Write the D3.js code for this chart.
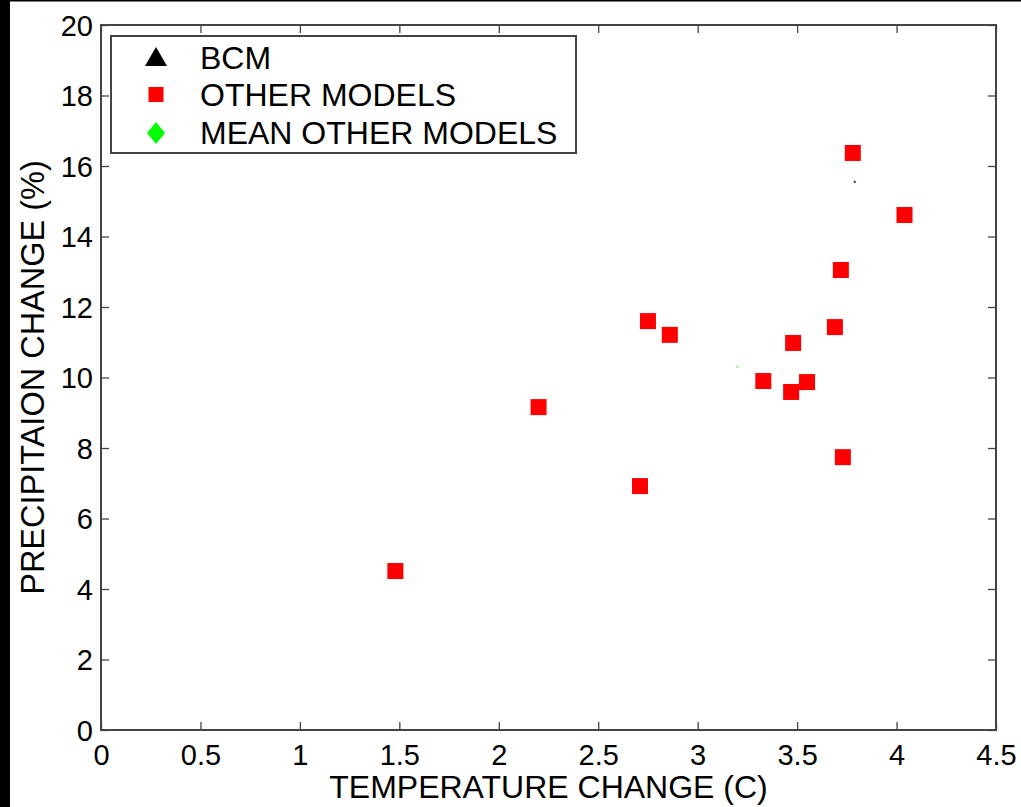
<!DOCTYPE html>
<html>
<head>
<meta charset="utf-8">
<script src="https://cdn.jsdelivr.net/npm/d3@7"></script>
<style>
  body { margin: 0; background: #fff; }
  svg { display: block; }
  text { font-family: "Liberation Sans", Arial, sans-serif; fill: #000; }
</style>
</head>
<body>
<svg id="chart" width="1021" height="807"></svg>
<script>
// values
const otherX = [1.48, 2.20, 2.71, 2.75, 2.86, 3.33, 3.48, 3.47, 3.55, 3.69, 3.72, 3.73, 3.78, 4.04];
const otherY = [4.51, 9.16, 6.92, 11.60, 11.21, 9.90, 10.98, 9.59, 9.87, 11.43, 13.05, 7.74, 16.37, 14.61];
const bcmPoint = [3.79, 15.55];
const meanPoint = [3.20, 10.30];
const xTicks = [0, 0.5, 1, 1.5, 2, 2.5, 3, 3.5, 4, 4.5];
const yTicks = [0, 2, 4, 6, 8, 10, 12, 14, 16, 18, 20];
const legendLabels = ["BCM", "OTHER MODELS", "MEAN OTHER MODELS"];

const svg = d3.select("#chart");
const axisColor = "#444";

// black frame edges from the original scan
svg.append("rect").attr("x", 0).attr("y", 0).attr("width", 10).attr("height", 807).attr("fill", "#000");
svg.append("rect").attr("x", 0).attr("y", 0).attr("width", 1021).attr("height", 1.5).attr("fill", "#000");

const plot = { left: 101, right: 996, top: 25, bottom: 730 };
const x = d3.scaleLinear().domain([0, 4.5]).range([plot.left, plot.right]);
const y = d3.scaleLinear().domain([0, 20]).range([plot.bottom, plot.top]);

// inward ticks on all sides
const tickLen = 8;
const axB = svg.append("g").attr("transform", `translate(0,${plot.bottom})`)
    .call(d3.axisBottom(x).tickValues(xTicks).tickSize(-tickLen).tickPadding(14).tickFormat(d3.format("")));
const axL = svg.append("g").attr("transform", `translate(${plot.left},0)`)
    .call(d3.axisLeft(y).tickValues(yTicks).tickSize(-tickLen).tickPadding(8).tickFormat(d3.format("")));
const axT = svg.append("g").attr("transform", `translate(0,${plot.top})`)
    .call(d3.axisTop(x).tickValues(xTicks).tickSize(-tickLen).tickFormat(""));
const axR = svg.append("g").attr("transform", `translate(${plot.right},0)`)
    .call(d3.axisRight(y).tickValues(yTicks).tickSize(-tickLen).tickFormat(""));

[axB, axL, axT, axR].forEach(g => {
    g.select(".domain").remove();
    g.selectAll(".tick line").attr("stroke", axisColor).attr("stroke-width", 1.3);
    g.selectAll(".tick text").attr("font-size", 29).attr("fill", "#000")
        .attr("font-family", "Liberation Sans, Arial, sans-serif");
});
axB.selectAll(".tick text").attr("dy", "0.71em");
axL.selectAll(".tick text").attr("dy", "0.36em");

svg.append("rect")
    .attr("x", plot.left).attr("y", plot.top)
    .attr("width", plot.right - plot.left).attr("height", plot.bottom - plot.top)
    .attr("fill", "none").attr("stroke", axisColor).attr("stroke-width", 2);

// axis titles
svg.append("text")
    .attr("x", (plot.left + plot.right) / 2).attr("y", 798)
    .attr("text-anchor", "middle").attr("font-size", 32)
    .text("TEMPERATURE CHANGE (C)");
svg.append("text")
    .attr("transform", `translate(44,${(plot.top + plot.bottom) / 2}) rotate(-90)`)
    .attr("text-anchor", "middle").attr("font-size", 32.5)
    .text("PRECIPITAION CHANGE (%)");

// points
const sq = 16;
svg.append("g").selectAll("rect")
    .data(d3.zip(otherX, otherY))
    .join("rect")
    .attr("x", d => x(d[0]) - sq / 2)
    .attr("y", d => y(d[1]) - sq / 2)
    .attr("width", sq).attr("height", sq)
    .attr("fill", "#ff0000");

svg.append("path")
    .attr("transform", `translate(${x(bcmPoint[0])},${y(bcmPoint[1])})`)
    .attr("d", d3.symbol(d3.symbolTriangle, 4)())
    .attr("fill", "#333");
svg.append("path")
    .attr("transform", `translate(${x(meanPoint[0])},${y(meanPoint[1])}) scale(1,0.4)`)
    .attr("d", d3.symbol(d3.symbolDiamond, 6)())
    .attr("fill", "#33dd33");

// legend
const legend = svg.append("g");
legend.append("rect")
    .attr("x", 111).attr("y", 36).attr("width", 465).attr("height", 117)
    .attr("fill", "#fff").attr("stroke", axisColor).attr("stroke-width", 2);

const rowY = [57, 94.5, 132];
legend.selectAll("text.lbl")
    .data(legendLabels)
    .join("text")
    .attr("class", "lbl")
    .attr("x", 200)
    .attr("y", (d, i) => rowY[i] + 11.5)
    .attr("font-size", 32)
    .text(d => d);

legend.append("path")
    .attr("transform", `translate(156,${rowY[0]})`)
    .attr("d", "M0,-10L11,9L-11,9Z")
    .attr("fill", "#000");
legend.append("rect")
    .attr("x", 156 - 7.5).attr("y", rowY[1] - 7.5)
    .attr("width", 15).attr("height", 15)
    .attr("fill", "#ff0000");
legend.append("path")
    .attr("transform", `translate(156,${rowY[2] + 1})`)
    .attr("d", "M0,-11L9,0L0,11L-9,0Z")
    .attr("fill", "#00ff00");
</script>
</body>
</html>
